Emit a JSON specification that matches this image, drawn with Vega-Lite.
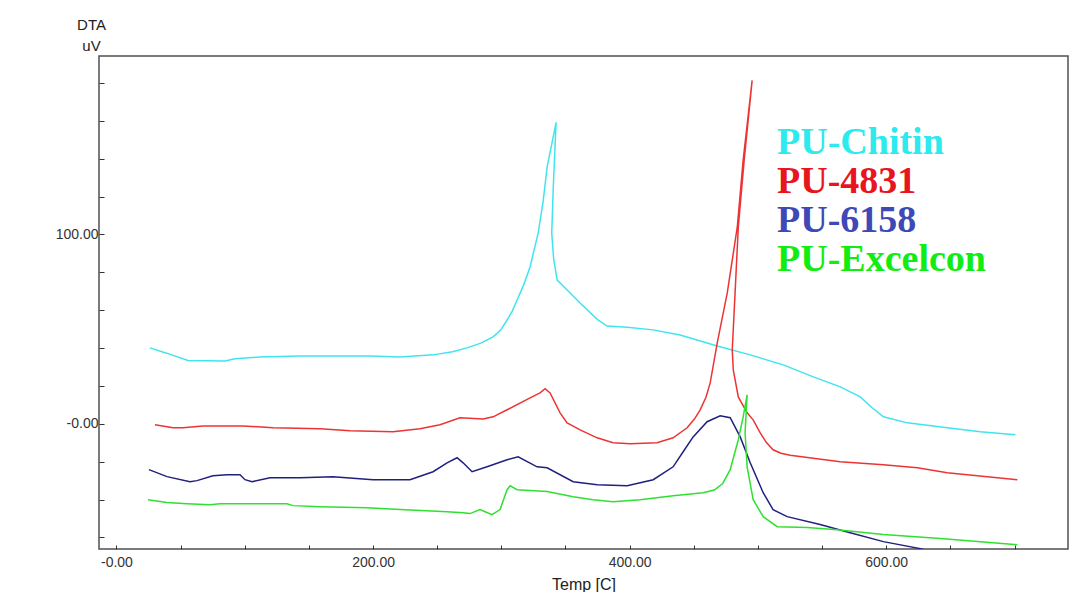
{
  "$schema": "https://vega.github.io/schema/vega-lite/v6.json",
  "width": 969,
  "height": 493,
  "autosize": {"type": "none"},
  "padding": {"left": 99, "top": 56, "right": 13, "bottom": 43},
  "background": "white",
  "config": {
    "view": {"stroke": "#505050", "strokeWidth": 1.5},
    "font": "Liberation Sans, Arial, sans-serif"
  },
  "data": {"values": [
    {"s":"PU-Chitin","n":1,"t":26.1,"v":40.1},
    {"s":"PU-Chitin","n":2,"t":39.1,"v":37.3},
    {"s":"PU-Chitin","n":3,"t":55.8,"v":33.4},
    {"s":"PU-Chitin","n":4,"t":84.6,"v":33.2},
    {"s":"PU-Chitin","n":5,"t":92.4,"v":34.3},
    {"s":"PU-Chitin","n":6,"t":111.9,"v":35.3},
    {"s":"PU-Chitin","n":7,"t":143.1,"v":35.8},
    {"s":"PU-Chitin","n":8,"t":197.7,"v":35.8},
    {"s":"PU-Chitin","n":9,"t":221.1,"v":35.3},
    {"s":"PU-Chitin","n":10,"t":246.8,"v":36.4},
    {"s":"PU-Chitin","n":11,"t":262.0,"v":38.0},
    {"s":"PU-Chitin","n":12,"t":273.3,"v":40.1},
    {"s":"PU-Chitin","n":13,"t":284.0,"v":42.6},
    {"s":"PU-Chitin","n":14,"t":293.6,"v":45.9},
    {"s":"PU-Chitin","n":15,"t":299.5,"v":49.5},
    {"s":"PU-Chitin","n":16,"t":304.5,"v":54.8},
    {"s":"PU-Chitin","n":17,"t":308.5,"v":59.5},
    {"s":"PU-Chitin","n":18,"t":312.3,"v":65.4},
    {"s":"PU-Chitin","n":19,"t":317.5,"v":73.5},
    {"s":"PU-Chitin","n":20,"t":322.4,"v":82.8},
    {"s":"PU-Chitin","n":21,"t":328.7,"v":100.7},
    {"s":"PU-Chitin","n":22,"t":332.5,"v":117.0},
    {"s":"PU-Chitin","n":23,"t":335.7,"v":135.5},
    {"s":"PU-Chitin","n":24,"t":342.7,"v":159.2},
    {"s":"PU-Chitin","n":25,"t":340.5,"v":125.0},
    {"s":"PU-Chitin","n":26,"t":339.3,"v":100.7},
    {"s":"PU-Chitin","n":27,"t":340.8,"v":87.0},
    {"s":"PU-Chitin","n":28,"t":343.5,"v":75.9},
    {"s":"PU-Chitin","n":29,"t":347.4,"v":73.3},
    {"s":"PU-Chitin","n":30,"t":361.4,"v":63.8},
    {"s":"PU-Chitin","n":31,"t":375.0,"v":55.0},
    {"s":"PU-Chitin","n":32,"t":382.5,"v":51.6},
    {"s":"PU-Chitin","n":33,"t":398.1,"v":51.0},
    {"s":"PU-Chitin","n":34,"t":418.4,"v":49.6},
    {"s":"PU-Chitin","n":35,"t":439.4,"v":46.9},
    {"s":"PU-Chitin","n":36,"t":468.3,"v":41.1},
    {"s":"PU-Chitin","n":37,"t":494.0,"v":36.4},
    {"s":"PU-Chitin","n":38,"t":519.8,"v":31.1},
    {"s":"PU-Chitin","n":39,"t":543.2,"v":24.8},
    {"s":"PU-Chitin","n":40,"t":564.2,"v":19.5},
    {"s":"PU-Chitin","n":41,"t":579.8,"v":14.2},
    {"s":"PU-Chitin","n":42,"t":589.0,"v":8.5},
    {"s":"PU-Chitin","n":43,"t":597.8,"v":3.7},
    {"s":"PU-Chitin","n":44,"t":616.5,"v":0.5},
    {"s":"PU-Chitin","n":45,"t":647.6,"v":-2.1},
    {"s":"PU-Chitin","n":46,"t":673.4,"v":-4.2},
    {"s":"PU-Chitin","n":47,"t":700.7,"v":-5.8},

    {"s":"PU-4831","n":1,"t":30.0,"v":-0.5},
    {"s":"PU-4831","n":2,"t":44.1,"v":-2.1},
    {"s":"PU-4831","n":3,"t":51.9,"v":-2.1},
    {"s":"PU-4831","n":4,"t":67.4,"v":-1.1},
    {"s":"PU-4831","n":5,"t":98.6,"v":-1.1},
    {"s":"PU-4831","n":6,"t":122.0,"v":-2.1},
    {"s":"PU-4831","n":7,"t":158.7,"v":-2.6},
    {"s":"PU-4831","n":8,"t":182.1,"v":-3.7},
    {"s":"PU-4831","n":9,"t":215.6,"v":-4.2},
    {"s":"PU-4831","n":10,"t":236.6,"v":-2.6},
    {"s":"PU-4831","n":11,"t":252.2,"v":-0.5},
    {"s":"PU-4831","n":12,"t":267.8,"v":3.2},
    {"s":"PU-4831","n":13,"t":285.8,"v":2.6},
    {"s":"PU-4831","n":14,"t":293.6,"v":3.7},
    {"s":"PU-4831","n":15,"t":304.5,"v":7.4},
    {"s":"PU-4831","n":16,"t":322.4,"v":13.7},
    {"s":"PU-4831","n":17,"t":330.2,"v":16.3},
    {"s":"PU-4831","n":18,"t":334.1,"v":18.5},
    {"s":"PU-4831","n":19,"t":338.0,"v":16.3},
    {"s":"PU-4831","n":20,"t":345.8,"v":5.8},
    {"s":"PU-4831","n":21,"t":351.3,"v":0.5},
    {"s":"PU-4831","n":22,"t":361.4,"v":-3.2},
    {"s":"PU-4831","n":23,"t":374.7,"v":-7.4},
    {"s":"PU-4831","n":24,"t":387.1,"v":-10.0},
    {"s":"PU-4831","n":25,"t":400.4,"v":-10.5},
    {"s":"PU-4831","n":26,"t":421.4,"v":-10.0},
    {"s":"PU-4831","n":27,"t":433.9,"v":-7.4},
    {"s":"PU-4831","n":28,"t":444.8,"v":-2.1},
    {"s":"PU-4831","n":29,"t":450.5,"v":2.5},
    {"s":"PU-4831","n":30,"t":455.0,"v":7.4},
    {"s":"PU-4831","n":31,"t":459.5,"v":14.0},
    {"s":"PU-4831","n":32,"t":462.8,"v":21.6},
    {"s":"PU-4831","n":33,"t":468.3,"v":42.7},
    {"s":"PU-4831","n":34,"t":476.1,"v":69.1},
    {"s":"PU-4831","n":35,"t":483.9,"v":103.8},
    {"s":"PU-4831","n":36,"t":488.5,"v":139.2},
    {"s":"PU-4831","n":37,"t":495.5,"v":181.3},
    {"s":"PU-4831","n":38,"t":489.3,"v":139.2},
    {"s":"PU-4831","n":39,"t":484.7,"v":103.8},
    {"s":"PU-4831","n":40,"t":482.3,"v":70.6},
    {"s":"PU-4831","n":41,"t":480.0,"v":39.0},
    {"s":"PU-4831","n":42,"t":480.8,"v":28.5},
    {"s":"PU-4831","n":43,"t":484.7,"v":14.2},
    {"s":"PU-4831","n":44,"t":491.6,"v":5.8},
    {"s":"PU-4831","n":45,"t":496.3,"v":2.1},
    {"s":"PU-4831","n":46,"t":501.7,"v":-4.7},
    {"s":"PU-4831","n":47,"t":506.5,"v":-9.8},
    {"s":"PU-4831","n":48,"t":511.8,"v":-13.7},
    {"s":"PU-4831","n":49,"t":518.0,"v":-15.5},
    {"s":"PU-4831","n":50,"t":525.1,"v":-16.6},
    {"s":"PU-4831","n":51,"t":564.2,"v":-20.0},
    {"s":"PU-4831","n":52,"t":597.8,"v":-21.6},
    {"s":"PU-4831","n":53,"t":624.3,"v":-23.2},
    {"s":"PU-4831","n":54,"t":647.6,"v":-25.8},
    {"s":"PU-4831","n":55,"t":702.2,"v":-29.5},

    {"s":"PU-6158","n":1,"t":25.3,"v":-24.2},
    {"s":"PU-6158","n":2,"t":39.4,"v":-27.9},
    {"s":"PU-6158","n":3,"t":57.3,"v":-30.6},
    {"s":"PU-6158","n":4,"t":62.8,"v":-30.0},
    {"s":"PU-6158","n":5,"t":75.2,"v":-27.4},
    {"s":"PU-6158","n":6,"t":86.2,"v":-26.9},
    {"s":"PU-6158","n":7,"t":96.3,"v":-26.9},
    {"s":"PU-6158","n":8,"t":100.2,"v":-29.5},
    {"s":"PU-6158","n":9,"t":105.7,"v":-30.6},
    {"s":"PU-6158","n":10,"t":119.7,"v":-28.5},
    {"s":"PU-6158","n":11,"t":143.1,"v":-28.5},
    {"s":"PU-6158","n":12,"t":168.8,"v":-27.9},
    {"s":"PU-6158","n":13,"t":200.0,"v":-29.5},
    {"s":"PU-6158","n":14,"t":228.8,"v":-29.5},
    {"s":"PU-6158","n":15,"t":246.8,"v":-25.3},
    {"s":"PU-6158","n":16,"t":257.7,"v":-20.6},
    {"s":"PU-6158","n":17,"t":265.5,"v":-17.9},
    {"s":"PU-6158","n":18,"t":270.2,"v":-20.6},
    {"s":"PU-6158","n":19,"t":277.2,"v":-25.3},
    {"s":"PU-6158","n":20,"t":288.9,"v":-22.7},
    {"s":"PU-6158","n":21,"t":304.5,"v":-19.0},
    {"s":"PU-6158","n":22,"t":313.1,"v":-17.4},
    {"s":"PU-6158","n":23,"t":327.9,"v":-22.7},
    {"s":"PU-6158","n":24,"t":335.7,"v":-23.2},
    {"s":"PU-6158","n":25,"t":356.0,"v":-30.6},
    {"s":"PU-6158","n":26,"t":374.7,"v":-32.2},
    {"s":"PU-6158","n":27,"t":398.1,"v":-32.7},
    {"s":"PU-6158","n":28,"t":418.4,"v":-29.5},
    {"s":"PU-6158","n":29,"t":433.9,"v":-22.7},
    {"s":"PU-6158","n":30,"t":442.0,"v":-14.5},
    {"s":"PU-6158","n":31,"t":449.5,"v":-6.9},
    {"s":"PU-6158","n":32,"t":460.4,"v":1.1},
    {"s":"PU-6158","n":33,"t":470.6,"v":4.2},
    {"s":"PU-6158","n":34,"t":478.4,"v":3.2},
    {"s":"PU-6158","n":35,"t":486.2,"v":-6.9},
    {"s":"PU-6158","n":36,"t":494.0,"v":-20.6},
    {"s":"PU-6158","n":37,"t":504.1,"v":-36.4},
    {"s":"PU-6158","n":38,"t":511.8,"v":-45.3},
    {"s":"PU-6158","n":39,"t":522.8,"v":-49.0},
    {"s":"PU-6158","n":40,"t":548.5,"v":-53.2},
    {"s":"PU-6158","n":41,"t":571.9,"v":-57.5},
    {"s":"PU-6158","n":42,"t":597.8,"v":-62.2},
    {"s":"PU-6158","n":43,"t":626.7,"v":-65.9},
    {"s":"PU-6158","n":44,"t":638.0,"v":-68.0},

    {"s":"PU-Excelcon","n":1,"t":24.6,"v":-40.1},
    {"s":"PU-Excelcon","n":2,"t":39.4,"v":-41.6},
    {"s":"PU-Excelcon","n":3,"t":55.0,"v":-42.2},
    {"s":"PU-Excelcon","n":4,"t":72.9,"v":-42.7},
    {"s":"PU-Excelcon","n":5,"t":80.7,"v":-42.2},
    {"s":"PU-Excelcon","n":6,"t":132.9,"v":-42.2},
    {"s":"PU-Excelcon","n":7,"t":137.6,"v":-43.2},
    {"s":"PU-Excelcon","n":8,"t":158.7,"v":-43.8},
    {"s":"PU-Excelcon","n":9,"t":195.3,"v":-44.3},
    {"s":"PU-Excelcon","n":10,"t":221.1,"v":-45.3},
    {"s":"PU-Excelcon","n":11,"t":257.7,"v":-46.4},
    {"s":"PU-Excelcon","n":12,"t":270.2,"v":-46.9},
    {"s":"PU-Excelcon","n":13,"t":275.6,"v":-47.4},
    {"s":"PU-Excelcon","n":14,"t":283.4,"v":-45.3},
    {"s":"PU-Excelcon","n":15,"t":287.3,"v":-46.4},
    {"s":"PU-Excelcon","n":16,"t":292.8,"v":-48.0},
    {"s":"PU-Excelcon","n":17,"t":299.0,"v":-45.3},
    {"s":"PU-Excelcon","n":18,"t":304.5,"v":-34.8},
    {"s":"PU-Excelcon","n":19,"t":306.8,"v":-32.7},
    {"s":"PU-Excelcon","n":20,"t":312.3,"v":-34.8},
    {"s":"PU-Excelcon","n":21,"t":335.7,"v":-35.8},
    {"s":"PU-Excelcon","n":22,"t":356.0,"v":-38.5},
    {"s":"PU-Excelcon","n":23,"t":371.5,"v":-40.1},
    {"s":"PU-Excelcon","n":24,"t":387.1,"v":-41.1},
    {"s":"PU-Excelcon","n":25,"t":408.2,"v":-40.1},
    {"s":"PU-Excelcon","n":26,"t":433.9,"v":-38.0},
    {"s":"PU-Excelcon","n":27,"t":457.3,"v":-36.4},
    {"s":"PU-Excelcon","n":28,"t":466.0,"v":-35.0},
    {"s":"PU-Excelcon","n":29,"t":472.6,"v":-31.5},
    {"s":"PU-Excelcon","n":30,"t":478.4,"v":-24.2},
    {"s":"PU-Excelcon","n":31,"t":484.7,"v":-8.4},
    {"s":"PU-Excelcon","n":32,"t":488.5,"v":3.7},
    {"s":"PU-Excelcon","n":33,"t":491.6,"v":15.3},
    {"s":"PU-Excelcon","n":34,"t":490.0,"v":-4.7},
    {"s":"PU-Excelcon","n":35,"t":491.6,"v":-22.7},
    {"s":"PU-Excelcon","n":36,"t":496.3,"v":-40.1},
    {"s":"PU-Excelcon","n":37,"t":504.1,"v":-49.0},
    {"s":"PU-Excelcon","n":38,"t":515.0,"v":-54.3},
    {"s":"PU-Excelcon","n":39,"t":538.4,"v":-54.8},
    {"s":"PU-Excelcon","n":40,"t":561.8,"v":-55.9},
    {"s":"PU-Excelcon","n":41,"t":597.8,"v":-58.5},
    {"s":"PU-Excelcon","n":42,"t":642.2,"v":-60.6},
    {"s":"PU-Excelcon","n":43,"t":702.2,"v":-63.8}
  ]},
  "mark": {"type": "line", "strokeWidth": 1.5, "clip": true},
  "encoding": {
    "x": {
      "field": "t", "type": "quantitative",
      "scale": {"domain": [-13.6, 741.7], "nice": false, "zero": false},
      "axis": {
        "title": "Temp  [C]",
        "titleFontSize": 16, "titleFontWeight": "normal", "titleColor": "#222",
        "titleBaseline": "alphabetic", "titleY": 40,
        "values": [0, 50, 100, 150, 200, 250, 300, 350, 400, 450, 500, 550, 600, 650, 700],
        "labelExpr": "datum.value == 0 ? '-0.00' : (datum.value % 200 == 0 ? format(datum.value, '.2f') : '')",
        "labelFontSize": 14, "labelColor": "#333",
        "tickSize": -4, "tickColor": "#333", "labelPadding": 10,
        "domain": false, "grid": false
      }
    },
    "y": {
      "field": "v", "type": "quantitative",
      "scale": {"domain": [-66.1, 194.2], "nice": false, "zero": false},
      "axis": {
        "title": ["DTA", "uV"],
        "titleAngle": 0, "titleAlign": "center", "titleBaseline": "alphabetic",
        "titleX": -8, "titleY": -27, "titleLineHeight": 21,
        "titleFontSize": 15, "titleFontWeight": "normal", "titleColor": "#222",
        "values": [-60, -40, -20, 0, 20, 40, 60, 80, 100, 120, 140, 160, 180],
        "labelExpr": "datum.value == 0 ? '-0.00' : (datum.value == 100 ? '100.00' : '')",
        "labelFontSize": 14, "labelColor": "#333",
        "tickSize": -5, "tickColor": "#333", "labelPadding": 6,
        "domain": false, "grid": false
      }
    },
    "color": {
      "field": "s", "type": "nominal",
      "scale": {
        "domain": ["PU-Chitin", "PU-4831", "PU-6158", "PU-Excelcon"],
        "range": ["#40E4EE", "#EC3434", "#20207E", "#30E030"]
      },
      "legend": {
        "title": null,
        "orient": "none", "legendX": 640, "legendY": 68,
        "padding": 0,
        "symbolSize": 0, "symbolOpacity": 0, "symbolStrokeWidth": 0,
        "labelOffset": 0, "labelLimit": 400,
        "labelFont": "Liberation Serif, Times New Roman, serif",
        "labelFontWeight": "bold", "labelFontSize": 38,
        "rowPadding": 1,
        "labelColor": {"expr": "datum.value == 'PU-Chitin' ? '#2CEAEE' : datum.value == 'PU-4831' ? '#E8141E' : datum.value == 'PU-6158' ? '#3E48B6' : '#12EC12'"}
      }
    },
    "order": {"field": "n", "type": "quantitative"}
  }
}
